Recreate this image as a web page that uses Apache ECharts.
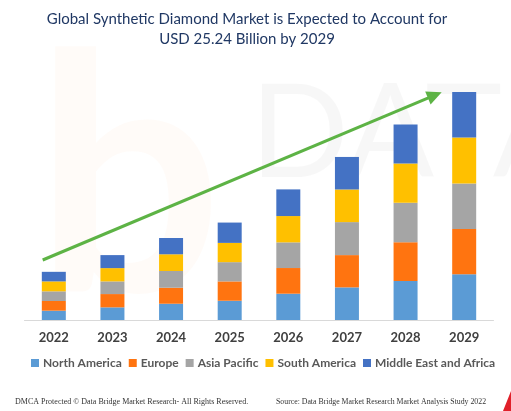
<!DOCTYPE html>
<html>
<head>
<meta charset="utf-8">
<script src="https://cdn.jsdelivr.net/npm/echarts@6/dist/echarts.min.js"></script>
<style>
html,body{margin:0;padding:0;background:#fff;}
#chart{width:511px;height:411px;}
</style>
</head>
<body>
<div id="chart"></div>
<script>
var years = ['2022','2023','2024','2025','2026','2027','2028','2029'];
var northAmerica = [1.03, 1.40, 1.80, 2.13, 2.91, 3.61, 4.31, 5.05];
var europe       = [1.07, 1.47, 1.77, 2.14, 2.84, 3.57, 4.28, 5.01];
var asiaPacific  = [1.07, 1.40, 1.85, 2.13, 2.84, 3.65, 4.38, 5.05];
var southAmerica = [1.10, 1.47, 1.85, 2.13, 2.91, 3.61, 4.35, 5.08];
var middleEast   = [1.06, 1.44, 1.80, 2.25, 2.95, 3.60, 4.31, 5.04];

var seriesNames = ['North America','Europe','Asia Pacific','South America','Middle East and Africa'];
var seriesData = [northAmerica, europe, asiaPacific, southAmerica, middleEast];
var colors = ['#5B9BD5','#FF7410','#A5A5A5','#FFC000','#4472C4'];

var chart = echarts.init(document.getElementById('chart'));
var series = seriesNames.map(function(name, i){
  return {
    name: name,
    type: 'bar',
    stack: 'total',
    barWidth: 24,
    data: seriesData[i],
    itemStyle: {color: colors[i]}
  };
});

chart.setOption({
  animation: false,
  backgroundColor: '#ffffff',
  color: colors,
  title: {
    text: 'Global Synthetic Diamond Market is Expected to Account for\nUSD 25.24 Billion by 2029',
    left: 242,
    textAlign: 'center',
    top: 4,
    textStyle: {fontFamily: 'Lato', fontSize: 15, fontWeight: 'normal', color: '#203864', lineHeight: 20}
  },
  legend: {
    top: 352,
    left: 26,
    itemWidth: 8,
    itemHeight: 8,
    itemGap: 7,
    icon: 'rect',
    textStyle: {fontFamily: 'Lato', fontSize: 12, fontWeight: 'bold', color: '#595959', padding: [0,0,0,-1]},
    data: seriesNames
  },
  grid: {left: 24.5, right: 17.5, top: 85, bottom: 91, containLabel: false},
  xAxis: {
    type: 'category',
    data: years,
    axisLine: {lineStyle: {color: '#D9D9D9', width: 1}},
    axisTick: {show: false},
    axisLabel: {fontFamily: 'Lato', fontSize: 13, fontWeight: 'bold', color: '#404040', margin: 11}
  },
  yAxis: {
    type: 'value',
    min: 0,
    max: 26,
    show: false,
    splitLine: {show: false}
  },
  series: series,
  graphic: [
    {type: 'text', left: 35, top: 20, silent: true, z: -10,
     style: {text: 'b', fontFamily: 'Lato', fontSize: 330, fontWeight: 'bold', fill: 'rgba(255,130,70,0.035)'}},
    {type: 'text', left: 250, top: 70, silent: true, z: -10,
     style: {text: 'DATAB', fontFamily: 'Lato', fontSize: 130, fill: 'rgba(0,0,0,0.03)'}},
    {type: 'line', silent: true, z: 10,
     shape: {x1: 42.7, y1: 260, x2: 429, y2: 97.6},
     style: {stroke: '#5DB345', lineWidth: 3}},
    {type: 'polygon', silent: true, z: 10,
     shape: {points: [[441.7, 92.3], [430.6, 104.6], [425.2, 91.6]]},
     style: {fill: '#5DB345'}},
    {type: 'text', left: 15, top: 398, silent: true,
     style: {text: 'DMCA Protected \u00A9 Data Bridge Market Research- All Rights Reserved.', fontFamily: 'Liberation Serif', fontSize: 8, fill: '#333333'}},
    {type: 'text', left: 276, top: 398, silent: true,
     style: {text: 'Source: Data Bridge Market Research Market Analysis Study 2022', fontFamily: 'Liberation Serif', fontSize: 7.8, fill: '#333333'}},
    {type: 'polygon', silent: true,
     shape: {points: [[503, 411], [511, 391], [511, 411]]},
     style: {fill: '#E0202A'}}
  ]
});
</script>
</body>
</html>
